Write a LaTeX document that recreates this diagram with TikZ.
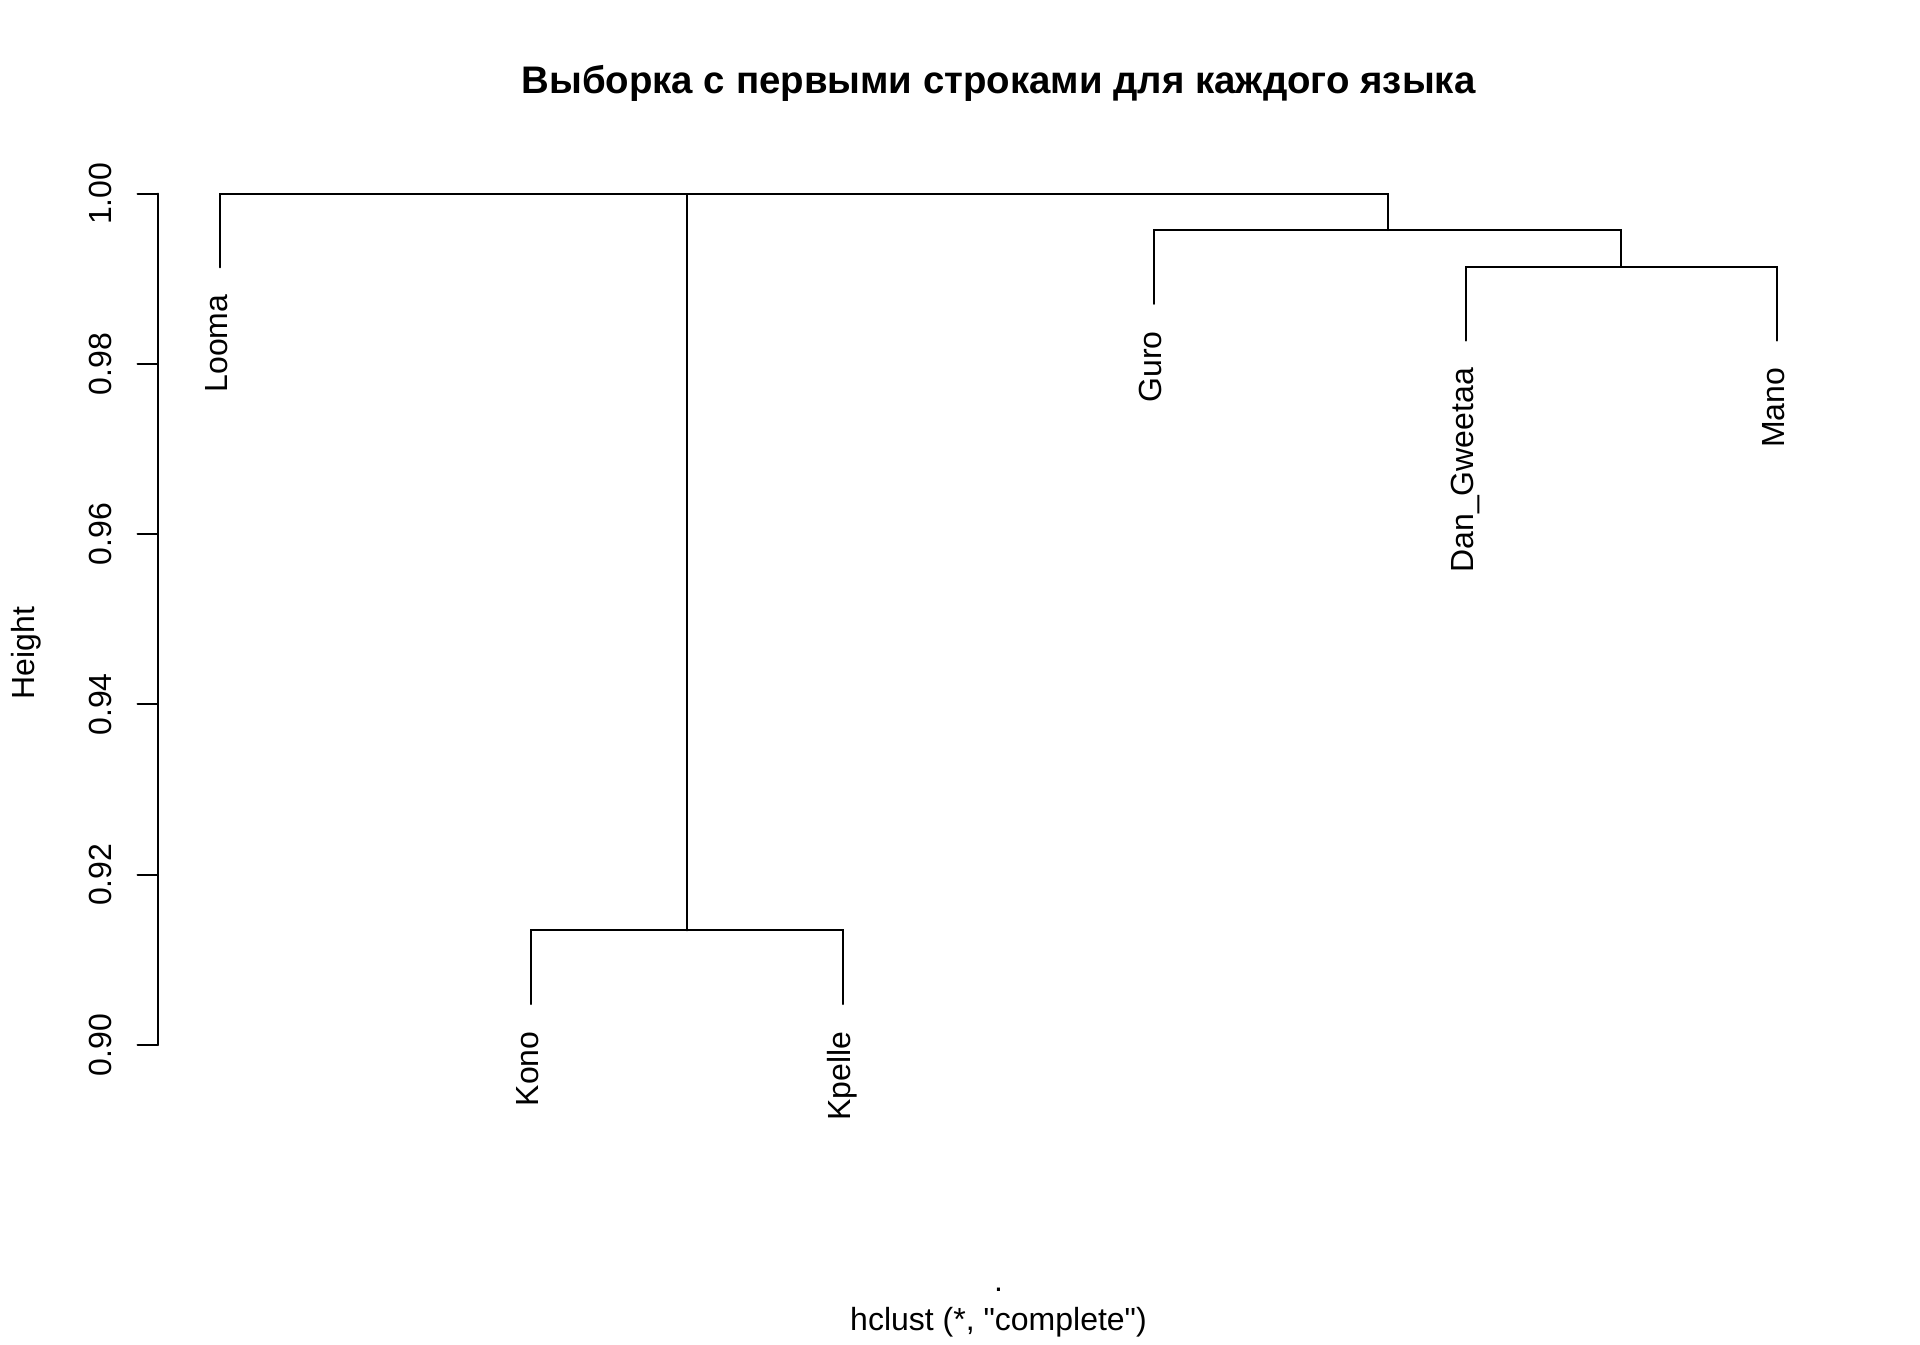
\documentclass[tikz,border=0pt]{standalone}
\usepackage{fontspec}
\setmainfont{Liberation Sans}[Ligatures=TeXOff]
\usetikzlibrary{calc}
\begin{document}
\begin{tikzpicture}[x=0.5pt,y=-0.5pt,
  lbl/.style={font=\fontsize{16}{19}\selectfont, inner sep=0pt, outer sep=0pt},
  leaflbl/.style={lbl, rotate=90, anchor=base east},
  ticklbl/.style={lbl, rotate=90, anchor=base},
  link/.style={line width=1pt, line cap=round, line join=miter},
  axisline/.style={line width=1pt, line cap=round}]
\useasboundingbox (0,0) rectangle (1920,1344);
% title
\node[font=\bfseries\fontsize{19.2}{23}\selectfont, inner sep=0pt, anchor=base] (title) at (998.5,93) {Выборка с первыми строками для каждого языка};
% axis
\draw[axisline] (157.5,193.7) -- (157.5,1045);
\foreach \v/\t in {0/0.90,1/0.92,2/0.94,3/0.96,4/0.98,5/1.00}{
  \draw[axisline] (137.5,1045-170.26*\v) -- (157.5,1045-170.26*\v);
  \node[ticklbl] (tick\v) at (111.7,1045-170.26*\v) {\t};
}
\node[lbl, rotate=90] (ylab) at (26,653) {Height};
% leaf ends
\coordinate (eLooma)  at (219.8,267.3);
\coordinate (eKono)   at (531.3,1004.0);
\coordinate (eKpelle) at (842.8,1004.0);
\coordinate (eGuro)   at (1154.2,303.8);
\coordinate (eDan)    at (1465.7,340.5);
\coordinate (eMano)   at (1777.2,340.5);
% merges
\coordinate (mKK)  at (687.05,930.4);
\coordinate (mDM)  at (1621.45,266.9);
\coordinate (mGDM) at (1387.8,230.2);
\coordinate (mR1)  at (453.4,193.7);
\coordinate (mR2)  at (920.6,193.7);
% links
\draw[link] (eKono) |- (mKK) -| (eKpelle);
\draw[link] (eDan) |- (mDM) -| (eMano);
\draw[link] (eGuro) |- (mGDM) -| (mDM);
\draw[link] (eLooma) |- (mR1) -| (mKK);
\draw[link] (mR1) |- (mR2) -| (mGDM);
% leaf labels
\node[leaflbl] (Looma)  at ($(eLooma)+(7.3,27.4)$)  {Looma};
\node[leaflbl] (Kono)   at ($(eKono)+(7.3,27.4)$)   {Kono};
\node[leaflbl] (Kpelle) at ($(eKpelle)+(7.3,27.4)$) {Kpelle};
\node[leaflbl] (Guro)   at ($(eGuro)+(7.3,27.4)$)   {Guro};
\node[leaflbl] (Dan)    at ($(eDan)+(7.3,27.4)$)    {Dan\_Gweetaa};
\node[leaflbl] (Mano)   at ($(eMano)+(7.3,27.4)$)   {Mano};
% bottom texts
\node[lbl, anchor=base] (xlab) at (998.5,1291) {.};
\node[lbl, anchor=base] (sub) at (998.5,1330.5) {hclust (*, "complete")};
\end{tikzpicture}
\end{document}
